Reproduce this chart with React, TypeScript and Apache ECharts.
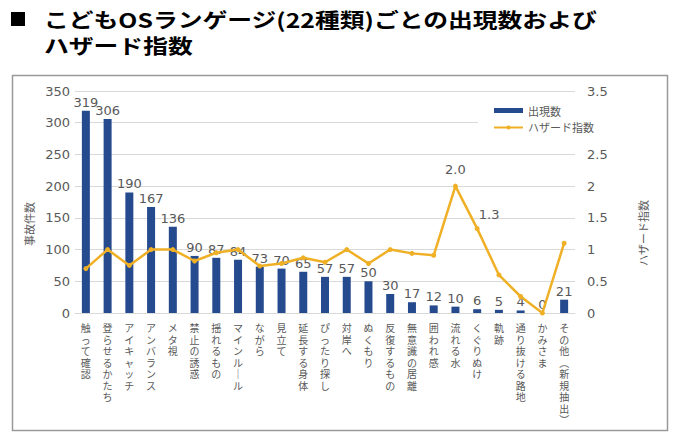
import React, { useEffect, useRef } from "react";
import * as echarts from "echarts";

const categories = [
  "触って確認",
  "登らせるかたち",
  "アイキャッチ",
  "アンバランス",
  "メタ視",
  "禁止の誘惑",
  "揺れるもの",
  "マインルール",
  "ながら",
  "見立て",
  "延長する身体",
  "ぴったり探し",
  "対岸へ",
  "ぬくもり",
  "反復するもの",
  "無意識の居離",
  "囲われ感",
  "流れる水",
  "くぐりぬけ",
  "軌跡",
  "通り抜ける路地",
  "かみさま",
  "その他（新規抽出）",
];

const counts = [319, 306, 190, 167, 136, 90, 87, 84, 73, 70, 65, 57, 57, 50, 30, 17, 12, 10, 6, 5, 4, 0, 21];

const hazard = [
  0.7, 1.0, 0.75, 1.0, 1.0, 0.82, 0.95, 1.0, 0.74, 0.78, 0.87, 0.8, 1.0, 0.78, 1.0, 0.94, 0.91, 2.0, 1.33,
  0.6, 0.26, 0, 1.1,
];

// only these points carry a value label
const labelledHazard = [17, 18];

const leftTicks = { min: 0, max: 350, interval: 50 };
const rightTicks = { min: 0, max: 3.5, interval: 0.5 };
// the legend box sits on top of this right-hand tick
const hiddenRightTick = 3;

const BAR = "#264a8e";
const LINE = "#efb026";
const GREY = "#595959";
const NUM_FONT = "'DejaVu Sans', 'Noto Sans CJK JP', sans-serif";
const JP_FONT = "'Noto Sans CJK JP', sans-serif";

// vertical writing: stack characters, turn dashes / brackets
const verticalMap: Record<string, string> = { "ー": "｜", "（": "︵", "）": "︶" };
const toVertical = (s: string) =>
  s
    .split("")
    .map((c) => verticalMap[c] ?? c)
    .join("\n");

const App: React.FC = () => {
  const chartRef = useRef<HTMLDivElement>(null);

  useEffect(() => {
    document.body.style.margin = "0";
    const chart = echarts.init(chartRef.current, null, { renderer: "svg" });

    const titleText = (text: string, y: number) => ({
      type: "text",
      x: 44,
      y,
      scaleX: 1.24,
      style: {
        text,
        font: `bold 20px ${JP_FONT}`,
        fill: "#000",
        verticalAlign: "middle",
      },
    });

    chart.setOption({
      animation: false,
      textStyle: { fontFamily: JP_FONT },
      graphic: [
        {
          type: "rect",
          shape: { x: 12.5, y: 75.5, width: 655, height: 355 },
          style: { fill: "none", stroke: "#9a9a9a", lineWidth: 1.5 },
        },
        {
          type: "rect",
          shape: { x: 11, y: 12, width: 14, height: 14 },
          style: { fill: "#000" },
        },
        titleText("こどもOSランゲージ(22種類)ごとの出現数および", 19),
        titleText("ハザード指数", 45),
        {
          type: "text",
          x: 29,
          y: 224,
          rotation: Math.PI / 2,
          style: {
            text: "事故件数",
            font: `11px ${JP_FONT}`,
            fill: GREY,
            align: "center",
            verticalAlign: "middle",
          },
        },
        {
          type: "text",
          x: 643,
          y: 233,
          rotation: Math.PI / 2,
          style: {
            text: "ハザード指数",
            font: `11px ${JP_FONT}`,
            fill: GREY,
            align: "center",
            verticalAlign: "middle",
          },
        },
      ],
      legend: {
        orient: "vertical",
        left: 478,
        top: 100,
        padding: [5, 8, 5, 15],
        itemGap: 6,
        itemWidth: 29,
        itemHeight: 5,
        backgroundColor: "#fff",
        textStyle: { color: GREY, fontSize: 11, fontFamily: JP_FONT },
        data: [{ name: "出現数", icon: "rect" }, { name: "ハザード指数" }],
      },
      grid: { left: 75, right: 107, top: 91, bottom: 131 },
      xAxis: {
        type: "category",
        data: categories,
        axisTick: { show: false },
        axisLine: { lineStyle: { color: "#d9d9d9" } },
        axisLabel: {
          interval: 0,
          margin: 9,
          color: GREY,
          fontSize: 10,
          lineHeight: 11.5,
          verticalAlign: "top",
          fontFamily: JP_FONT,
          formatter: (v: string) => toVertical(v),
        },
      },
      yAxis: [
        {
          type: "value",
          ...leftTicks,
          axisLine: { show: false },
          axisTick: { show: false },
          splitLine: { lineStyle: { color: "#d9d9d9" } },
          axisLabel: { color: GREY, fontSize: 13, margin: 5, fontFamily: NUM_FONT },
        },
        {
          type: "value",
          ...rightTicks,
          position: "right",
          axisLine: { show: false },
          axisTick: { show: false },
          splitLine: { show: false },
          axisLabel: {
            color: GREY,
            fontSize: 13,
            margin: 12,
            fontFamily: NUM_FONT,
            formatter: (v: number) => (v === hiddenRightTick ? "" : String(v)),
          },
        },
      ],
      series: [
        {
          name: "出現数",
          type: "bar",
          data: counts,
          barWidth: 8,
          itemStyle: { color: BAR },
          label: {
            show: true,
            position: "top",
            distance: 2,
            color: GREY,
            fontSize: 13,
            fontFamily: NUM_FONT,
          },
        },
        {
          name: "ハザード指数",
          type: "line",
          yAxisIndex: 1,
          symbol: "circle",
          symbolSize: 5,
          lineStyle: { color: LINE, width: 2.5 },
          itemStyle: { color: LINE },
          data: hazard.map((v, i) =>
            labelledHazard.includes(i)
              ? {
                  value: v,
                  label: {
                    show: true,
                    position: "top",
                    distance: i === 17 ? 8 : 5,
                    offset: i === 18 ? [12, 0] : [0, 0],
                    color: GREY,
                    fontSize: 13,
                    fontFamily: NUM_FONT,
                    formatter: (p: any) => Number(p.value).toFixed(1),
                  },
                }
              : v
          ),
        },
      ],
    });

    return () => {
      chart.dispose();
    };
  }, []);

  return <div ref={chartRef} style={{ width: 682, height: 444 }}></div>;
};

export default App;
